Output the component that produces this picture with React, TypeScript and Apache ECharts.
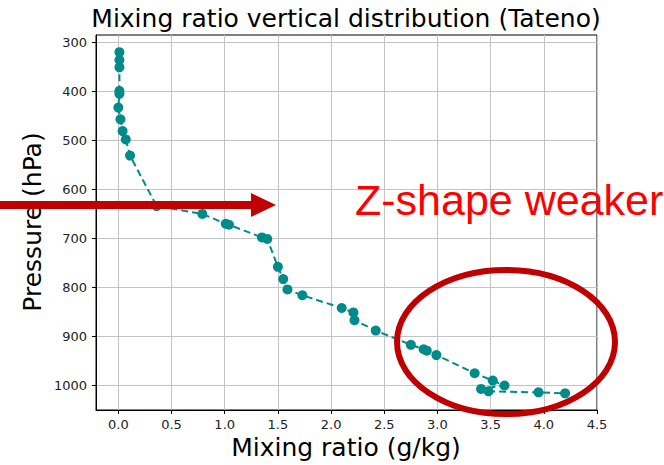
import React, { useEffect, useRef } from "react";
import * as echarts from "echarts";

const mixingRatio = [0.01, 0.01, 0.01, 0.01, 0.01, 0.0, 0.02, 0.04, 0.07, 0.11, 0.36, 0.79, 1.01, 1.04, 1.35, 1.4, 1.5, 1.55, 1.59, 1.73, 2.1, 2.21, 2.22, 2.42, 2.75, 2.87, 2.9, 2.99, 3.35, 3.52, 3.63, 3.41, 3.48, 3.95, 4.2];
const pressure = [320, 336, 351, 399, 405, 433, 457, 481, 498, 531, 634, 650, 670, 672, 698, 701, 758, 783, 804, 816, 842, 851, 867, 888, 917, 926, 929, 938, 975, 990, 1000, 1007, 1012, 1014, 1016];
const xTicks = [0, 0.5, 1, 1.5, 2, 2.5, 3, 3.5, 4, 4.5];
const yTicks = [300, 400, 500, 600, 700, 800, 900, 1000];

const titleText = "Mixing ratio vertical distribution (Tateno)";
const xLabel = "Mixing ratio (g/kg)";
const yLabel = "Pressure (hPa)";
const noteText = "Z-shape weaker";

const FONT = "DejaVu Sans";

export default function App() {
  const ref = useRef<HTMLDivElement>(null);
  useEffect(() => {
    if (!ref.current) return;
    const chart = echarts.init(ref.current, undefined, { renderer: "svg" });
    const data = mixingRatio.map((x, i) => [x, pressure[i]]);
    chart.setOption({
      animation: false,
      grid: {
        left: 96,
        top: 35,
        right: 67,
        bottom: 55,
        show: true,
        borderColor: "#000",
        borderWidth: 1,
        backgroundColor: "transparent",
      },
      xAxis: {
        type: "value",
        min: -0.21,
        max: 4.5,
        axisLine: { show: true, onZero: false, lineStyle: { color: "#000", width: 1 } },
        axisTick: { show: true, length: 4, inside: false, customValues: xTicks, lineStyle: { color: "#000" } },
        axisLabel: {
          customValues: xTicks,
          formatter: (v: number) => v.toFixed(1),
          color: "#222",
          fontFamily: FONT,
          fontSize: 13,
          margin: 8,
        },
        splitLine: { show: true, lineStyle: { color: "#c4c4c4", width: 1 } },
      },
      yAxis: {
        type: "value",
        inverse: true,
        min: 285,
        max: 1050,
        axisLine: { show: true, onZero: false, lineStyle: { color: "#000", width: 1 } },
        axisTick: { show: true, length: 4, inside: false, customValues: yTicks, lineStyle: { color: "#000" } },
        axisLabel: {
          customValues: yTicks,
          formatter: (v: number) => String(v),
          color: "#222",
          fontFamily: FONT,
          fontSize: 13,
          margin: 9,
        },
        splitLine: { show: true, lineStyle: { color: "#c4c4c4", width: 1 } },
      },
      series: [
        {
          type: "line",
          data,
          symbol: "circle",
          symbolSize: 10,
          itemStyle: { color: "#008b8b" },
          lineStyle: { color: "#008b8b", width: 2, type: [7, 4] },
          z: 3,
        },
      ],
      graphic: [
        {
          type: "text",
          x: 346,
          y: 18,
          z: 100,
          style: {
            text: titleText,
            fill: "#000",
            fontFamily: FONT,
            fontSize: 25,
            align: "center",
            verticalAlign: "middle",
            textAlign: "center",
            textVerticalAlign: "middle",
          },
        },
        {
          type: "text",
          x: 346,
          y: 447,
          z: 100,
          style: {
            text: xLabel,
            fill: "#000",
            fontFamily: FONT,
            fontSize: 25,
            align: "center",
            verticalAlign: "middle",
            textAlign: "center",
            textVerticalAlign: "middle",
          },
        },
        {
          type: "text",
          x: 32,
          y: 222,
          rotation: Math.PI / 2,
          z: 100,
          style: {
            text: yLabel,
            fill: "#000",
            fontFamily: FONT,
            fontSize: 25,
            align: "center",
            verticalAlign: "middle",
            textAlign: "center",
            textVerticalAlign: "middle",
          },
        },
        {
          type: "rect",
          z: 200,
          shape: { x: 0, y: 201, width: 253, height: 8 },
          style: { fill: "#c00000" },
        },
        {
          type: "polygon",
          z: 200,
          shape: { points: [[251, 193], [276, 205], [251, 217]] },
          style: { fill: "#c00000" },
        },
        {
          type: "ellipse",
          z: 200,
          shape: { cx: 506, cy: 342, rx: 109, ry: 72 },
          style: { fill: "none", stroke: "#c00000", lineWidth: 6 },
        },
        {
          type: "text",
          x: 355,
          y: 200,
          z: 200,
          style: {
            text: noteText,
            fill: "#ff0000",
            fontFamily: "Liberation Sans",
            fontSize: 43,
            align: "left",
            verticalAlign: "middle",
            textAlign: "left",
            textVerticalAlign: "middle",
          },
        },
      ],
    });
    return () => chart.dispose();
  }, []);
  return (
    <div
      ref={ref}
      style={{ position: "absolute", left: 0, top: 0, width: 664, height: 465, background: "#fff" }}
    />
  );
}
